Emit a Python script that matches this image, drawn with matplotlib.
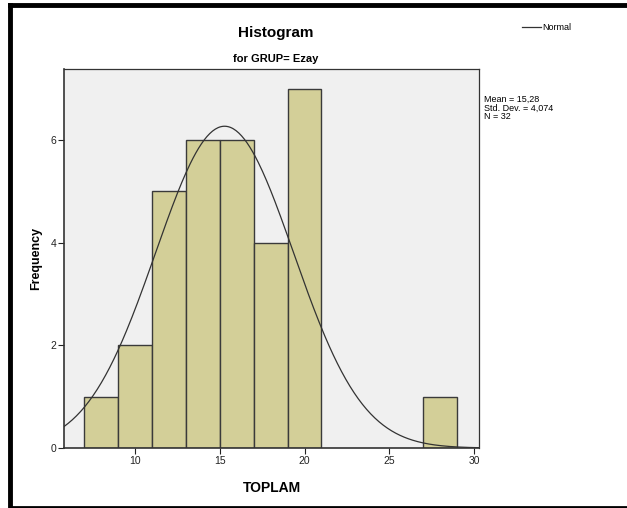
import numpy as np
import matplotlib
matplotlib.use("Agg")
import matplotlib.pyplot as plt
from matplotlib.lines import Line2D

plt.rcParams['font.family'] = ['Liberation Sans', 'DejaVu Sans']

# histogram bins (left edges) and counts
bin_left = [7, 9, 11, 13, 15, 17, 19, 27]
bin_width = 2
counts = [1, 2, 5, 6, 6, 4, 7, 1]

mean = 15.28
std_dev = 4.074
n = 32

x_ticks = [10, 15, 20, 25, 30]
y_ticks = [0, 2, 4, 6]


def normal_curve(x):
    return n * bin_width * np.exp(-(x - mean) ** 2 / (2 * std_dev ** 2)) / (std_dev * np.sqrt(2 * np.pi))


fig = plt.figure(figsize=(6.27, 5.08), dpi=100)
ax = fig.add_axes([0.102, 0.118, 0.662, 0.746])
ax.set_facecolor('#f0f0f0')

ax.bar(bin_left, counts, width=bin_width, align='edge', color='#d3cf98',
       edgecolor='#3a3a3a', linewidth=1.0, zorder=2)

xs = np.linspace(5.8, 30.3, 300)
ax.plot(xs, normal_curve(xs), color='#333333', linewidth=0.9, zorder=3)

ax.set_xlim(5.8, 30.3)
ax.set_ylim(0, 7.38)
ax.set_xticks(x_ticks)
ax.set_yticks(y_ticks)
ax.tick_params(direction='out', length=4, width=0.8, labelsize=7.5, pad=1.5, colors='#222222')
for side in ['top', 'right', 'left', 'bottom']:
    ax.spines[side].set_color('#333333')
    ax.spines[side].set_linewidth(0.9)
ax.spines['left'].set_linewidth(1.2)
ax.spines['bottom'].set_linewidth(1.2)

ax.set_xlabel('TOPLAM', fontsize=10, fontweight='bold', labelpad=11)
ax.set_ylabel('Frequency', fontsize=9, fontweight='bold', labelpad=6)

fig.text(0.44, 0.935, 'Histogram', ha='center', va='center', fontsize=11, fontweight='bold')
fig.text(0.44, 0.883, 'for GRUP= Ezay', ha='center', va='center', fontsize=8, fontweight='bold')

# legend line + label
fig.add_artist(Line2D([522 / 627, 541 / 627], [1 - 27 / 508, 1 - 27 / 508], color='#333333', linewidth=0.9))
fig.text(542 / 627, 1 - 27 / 508, 'Normal', ha='left', va='center', fontsize=6.5)

fig.text(484 / 627, 1 - 108 / 508,
         'Mean = 15,28\nStd. Dev. = 4,074\nN = 32',
         ha='left', va='center', fontsize=6.5, linespacing=0.95)

# thick outer frame (left, top, bottom)
fig.add_artist(Line2D([10 / 627, 10 / 627], [0.003, 1 - 5 / 508], color='black', linewidth=3.5))
fig.add_artist(Line2D([10 / 627, 1.0], [1 - 5 / 508, 1 - 5 / 508], color='black', linewidth=3.5))
fig.add_artist(Line2D([10 / 627, 1.0], [1.5 / 508, 1.5 / 508], color='black', linewidth=2))

fig.savefig('out.png', dpi=100)
